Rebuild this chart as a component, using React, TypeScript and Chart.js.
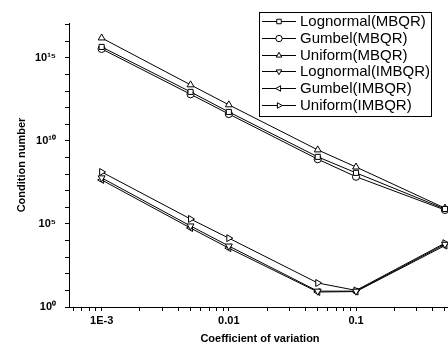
import React, { useEffect, useRef } from 'react';
import { Chart, registerables } from 'chart.js';

Chart.register(...registerables);

// ---- data ----
const coefficients = [0.001, 0.005, 0.01, 0.05, 0.1, 0.5];

const seriesLabels = [
  'Lognormal(MBQR)',
  'Gumbel(MBQR)',
  'Uniform(MBQR)',
  'Lognormal(IMBQR)',
  'Gumbel(IMBQR)',
  'Uniform(IMBQR)',
];

const lognormalMBQR = [4.6e15, 9e12, 5.6e11, 1.1e9, 1.2e8, 8e5];
const gumbelMBQR = [3.5e15, 6.5e12, 4.2e11, 8e8, 7e7, 7e5];
const uniformMBQR = [1.6e16, 2.4e13, 1.5e12, 2.9e9, 2.7e8, 9e5];
const lognormalIMBQR = [6e7, 7.6e4, 4.7e3, 9, 9, 6e3];
const gumbelIMBQR = [4.5e7, 5.7e4, 3.5e3, 8, 8.5, 5e3];
const uniformIMBQR = [1.35e8, 2e5, 1.4e4, 28, 10, 7e3];

const seriesValues = [
  lognormalMBQR,
  gumbelMBQR,
  uniformMBQR,
  lognormalIMBQR,
  gumbelIMBQR,
  uniformIMBQR,
];

const seriesPointStyles = ['rect', 'circle', 'triangle', 'triangle', 'triangle', 'triangle'];
const seriesPointRotations = [0, 0, 0, 180, 270, 90];

const xTickValues = [
  6e-4, 7e-4, 8e-4, 9e-4,
  1e-3, 2e-3, 3e-3, 4e-3, 5e-3, 6e-3, 7e-3, 8e-3, 9e-3,
  1e-2, 2e-2, 3e-2, 4e-2, 5e-2, 6e-2, 7e-2, 8e-2, 9e-2,
  1e-1, 2e-1, 3e-1, 4e-1, 5e-1,
];
const xTickLabelExponents = [-3, -2, -1];
const xTickLabelTexts = ['1E-3', '0.01', '0.1'];

const yTickExponents = [0, 1, 2, 3, 4, 5, 6, 7, 8, 9, 10, 11, 12, 13, 14, 15, 16, 17];
const yLabeledExponents = [0, 5, 10, 15];

const SUP: Record<string, string> = {
  '0': '⁰', '1': '¹', '2': '²', '3': '³', '4': '⁴',
  '5': '⁵', '6': '⁶', '7': '⁷', '8': '⁸', '9': '⁹',
};
const sup = (n: number) => String(n).split('').map((c) => SUP[c] || c).join('');

const FONT = '"Liberation Sans", Arial, sans-serif';

function drawMarker(
  ctx: CanvasRenderingContext2D,
  style: string,
  rotationDeg: number,
  x: number,
  y: number,
  r: number
) {
  ctx.beginPath();
  if (style === 'circle') {
    ctx.arc(x, y, r, 0, Math.PI * 2);
  } else if (style === 'rect') {
    const s = Math.SQRT1_2 * r;
    ctx.rect(x - s, y - s, 2 * s, 2 * s);
  } else {
    let rad = (rotationDeg * Math.PI) / 180;
    ctx.moveTo(x + Math.sin(rad) * r, y - Math.cos(rad) * r);
    rad += (2 * Math.PI) / 3;
    ctx.lineTo(x + Math.sin(rad) * r, y - Math.cos(rad) * r);
    rad += (2 * Math.PI) / 3;
    ctx.lineTo(x + Math.sin(rad) * r, y - Math.cos(rad) * r);
    ctx.closePath();
  }
  ctx.fillStyle = '#fff';
  ctx.fill();
  ctx.strokeStyle = '#000';
  ctx.lineWidth = 1;
  ctx.stroke();
}

const boxLegend = {
  id: 'boxLegend',
  afterDatasetsDraw(chart: any) {
    const ctx: CanvasRenderingContext2D = chart.ctx;
    ctx.save();
    const bx = 259.5, by = 12.5, bw = 172, bh = 104;
    ctx.fillStyle = '#fff';
    ctx.fillRect(bx, by, bw, bh);
    ctx.strokeStyle = '#000';
    ctx.lineWidth = 1;
    ctx.strokeRect(bx, by, bw, bh);
    chart.data.datasets.forEach((ds: any, i: number) => {
      const y = Math.round(21 + i * 16.8) + 0.5;
      ctx.strokeStyle = '#000';
      ctx.lineWidth = 1;
      ctx.beginPath();
      ctx.moveTo(262, y);
      ctx.lineTo(296, y);
      ctx.stroke();
      drawMarker(ctx, ds.pointStyle, ds.pointRotation || 0, 279, y, 3.2);
      ctx.fillStyle = '#000';
      ctx.font = `15px ${FONT}`;
      ctx.textBaseline = 'middle';
      ctx.textAlign = 'left';
      ctx.fillText(ds.label, 300, y + 0.5);
    });
    ctx.restore();
  },
};

export default function App() {
  const canvasRef = useRef<HTMLCanvasElement | null>(null);

  useEffect(() => {
    if (!canvasRef.current) return;
    const datasets = seriesLabels.map((label, i) => ({
      label,
      data: coefficients.map((x, j) => ({ x, y: seriesValues[i][j] })),
      borderColor: '#000',
      borderWidth: 1,
      backgroundColor: '#fff',
      pointStyle: seriesPointStyles[i],
      pointRotation: seriesPointRotations[i],
      pointRadius: seriesPointStyles[i] === 'triangle' ? 4 : 3.6,
      pointBackgroundColor: '#fff',
      pointBorderColor: '#000',
      pointBorderWidth: 1,
      fill: false,
      tension: 0,
    }));

    const chart = new Chart(canvasRef.current, {
      type: 'line',
      data: { datasets } as any,
      plugins: [boxLegend],
      options: {
        responsive: false,
        animation: false,
        events: [],
        layout: { padding: { top: 23, right: 1, left: 0, bottom: 0 } },
        plugins: {
          legend: { display: false },
          tooltip: { enabled: false },
        },
        scales: {
          x: {
            type: 'logarithmic',
            min: 5.54e-4,
            max: 0.558,
            afterBuildTicks: (s: any) => {
              s.ticks = xTickValues.map((v) => ({ value: v }));
            },
            afterFit: (s: any) => {
              s.height = 45;
            },
            ticks: {
              autoSkip: false,
              maxRotation: 0,
              minRotation: 0,
              padding: 3,
              color: '#000',
              font: { family: FONT, size: 11, weight: 'bold' },
              callback: (v: any) => {
                const lv = Math.log10(Number(v));
                const k = xTickLabelExponents.findIndex((e) => Math.abs(e - lv) < 1e-6);
                return k >= 0 ? xTickLabelTexts[k] : '';
              },
            },
            grid: {
              display: true,
              drawOnChartArea: false,
              drawTicks: true,
              tickLength: 4,
              tickColor: '#000',
              color: '#000',
            },
            border: { display: true, color: '#000', width: 1 },
            title: {
              display: true,
              text: 'Coefficient of variation',
              color: '#000',
              font: { family: FONT, size: 11, weight: 'bold' },
              padding: { top: 0, bottom: 6 },
            },
          },
          y: {
            type: 'logarithmic',
            min: 1,
            max: 1.27e17,
            afterBuildTicks: (s: any) => {
              s.ticks = yTickExponents.map((k) => ({ value: Math.pow(10, k) }));
            },
            afterFit: (s: any) => {
              s.width = 69;
            },
            ticks: {
              autoSkip: false,
              padding: 9,
              color: '#000',
              font: { family: FONT, size: 11, weight: 'bold' },
              callback: (v: any) => {
                const k = Math.round(Math.log10(Number(v)));
                return yLabeledExponents.includes(k) ? '10' + sup(k) : '';
              },
            },
            grid: {
              display: true,
              drawOnChartArea: false,
              drawTicks: true,
              tickLength: 4,
              tickColor: '#000',
              color: '#000',
            },
            border: { display: true, color: '#000', width: 1 },
            title: {
              display: true,
              text: 'Condition number',
              color: '#000',
              font: { family: FONT, size: 11, weight: 'bold' },
              padding: { top: 15, bottom: 0 },
            },
          },
        },
      } as any,
    });
    return () => chart.destroy();
  }, []);

  return (
    <div
      style={{
        position: 'fixed',
        left: 0,
        top: 0,
        width: 448,
        height: 352,
        overflow: 'hidden',
        background: '#fff',
      }}
    >
      <canvas ref={canvasRef} width={456} height={352} />
    </div>
  );
}
